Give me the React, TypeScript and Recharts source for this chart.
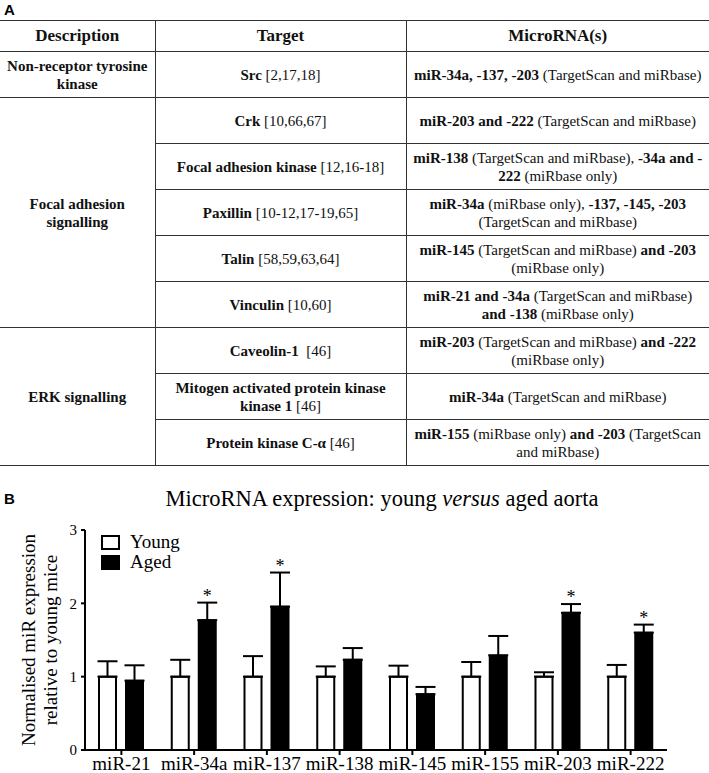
import React from 'react';
import { BarChart, Bar, XAxis, YAxis, ErrorBar, LabelList, Legend } from 'recharts';

// Panel A: table of predicted targets
const tableHeaders = ['Description', 'Target', 'MicroRNA(s)'];

const tableGroups = [
  {
    description: 'Non-receptor tyrosine\nkinase',
    targets: ['**Src** [2,17,18]'],
    mirnaText: ['**miR-34a, -137, -203** (TargetScan and miRbase)'],
  },
  {
    description: 'Focal adhesion\nsignalling',
    targets: [
      '**Crk** [10,66,67]',
      '**Focal adhesion kinase** [12,16-18]',
      '**Paxillin** [10-12,17-19,65]',
      '**Talin** [58,59,63,64]',
      '**Vinculin** [10,60]',
    ],
    mirnaText: [
      '**miR-203 and -222** (TargetScan and miRbase)',
      '**miR-138** (TargetScan and miRbase), **-34a and -**\n**222** (miRbase only)',
      '**miR-34a** (miRbase only), **-137, -145, -203**\n(TargetScan and miRbase)',
      '**miR-145** (TargetScan and miRbase) **and -203**\n(miRbase only)',
      '**miR-21 and -34a** (TargetScan and miRbase)\n**and -138** (miRbase only)',
    ],
  },
  {
    description: 'ERK signalling',
    targets: [
      '**Caveolin-1**  [46]',
      '**Mitogen activated protein kinase**\n**kinase 1** [46]',
      '**Protein kinase C-α** [46]',
    ],
    mirnaText: [
      '**miR-203** (TargetScan and miRbase) **and -222**\n(miRbase only)',
      '**miR-34a** (TargetScan and miRbase)',
      '**miR-155** (miRbase only) **and -203** (TargetScan\nand miRbase)',
    ],
  },
];

// Panel B: expression data
const mirnas = ['miR-21', 'miR-34a', 'miR-137', 'miR-138', 'miR-145', 'miR-155', 'miR-203', 'miR-222'];
const groups = ['Young', 'Aged'];
const youngMean = [1, 1, 1, 1, 1, 1, 1, 1];
const youngSem = [0.21, 0.23, 0.28, 0.14, 0.15, 0.2, 0.06, 0.16];
const agedMean = [0.945, 1.77, 1.955, 1.23, 0.76, 1.29, 1.87, 1.6];
const agedSem = [0.21, 0.24, 0.465, 0.16, 0.1, 0.265, 0.12, 0.11];
const agedSignificant = [false, true, true, false, false, false, true, true];
const yTicks = [0, 1, 2, 3];

const chartData = mirnas.map((name, i) => ({
  name,
  young: youngMean[i],
  youngErr: [0, youngSem[i]],
  aged: agedMean[i],
  agedErr: [0, agedSem[i]],
}));

const SERIF = '"Liberation Serif", "Times New Roman", serif';
const LINE = '1.5px solid #333';

// '**' toggles bold, '\n' starts a new line
const Rich = ({ text }: { text: string }) => {
  let bold = false;
  return (
    <>
      {text.split('\n').map((line, li) => (
        <div key={li}>
          {line.split('**').map((part, pi) => {
            if (pi > 0) bold = !bold;
            if (!part) return null;
            return bold ? <b key={pi}>{part}</b> : <span key={pi}>{part}</span>;
          })}
        </div>
      ))}
    </>
  );
};

const cellStyle = (col: number): React.CSSProperties => ({
  borderTop: LINE,
  borderBottom: LINE,
  borderLeft: col > 0 ? LINE : 'none',
  textAlign: 'center',
  verticalAlign: 'middle',
  padding: '0 4px',
  whiteSpace: 'pre',
});

const TargetTable = () => (
  <table
    style={{
      position: 'absolute',
      top: 20,
      left: 0,
      width: 709,
      borderCollapse: 'collapse',
      tableLayout: 'fixed',
      fontFamily: SERIF,
      fontSize: 15,
      lineHeight: '18px',
      color: '#111',
    }}
  >
    <colgroup>
      <col style={{ width: 155 }} />
      <col style={{ width: 251 }} />
      <col style={{ width: 303 }} />
    </colgroup>
    <thead>
      <tr style={{ height: 31 }}>
        {tableHeaders.map((h, i) => (
          <th key={h} style={{ ...cellStyle(i), fontSize: 17 }}>{h}</th>
        ))}
      </tr>
    </thead>
    <tbody>
      {tableGroups.map((g) =>
        g.targets.map((t, ri) => (
          <tr key={t} style={{ height: 46 }}>
            {ri === 0 && (
              <td rowSpan={g.targets.length} style={{ ...cellStyle(0), fontWeight: 'bold' }}>
                <Rich text={g.description} />
              </td>
            )}
            <td style={cellStyle(1)}><Rich text={t} /></td>
            <td style={cellStyle(2)}><Rich text={g.mirnaText[ri]} /></td>
          </tr>
        ))
      )}
    </tbody>
  </table>
);

const YLabel = (props: any) => {
  const vb = props.viewBox || {};
  const cy = vb.y + vb.height / 2;
  return (
    <g fontFamily={SERIF} fontSize={19} fill="#000" textAnchor="middle">
      <text x={28} y={cy} dy="0.35em" transform={`rotate(-90, 28, ${cy})`}>Normalised miR expression</text>
      <text x={50} y={cy} dy="0.35em" transform={`rotate(-90, 50, ${cy})`}>relative to young mice</text>
    </g>
  );
};

const Star = (props: any) => {
  const vb = props.viewBox || props;
  const i = props.index;
  if (i == null || !agedSignificant[i]) return null;
  const h = Math.abs(vb.height);
  const base = vb.y + h;
  const pxPerUnit = h / agedMean[i];
  const top = base - (agedMean[i] + agedSem[i]) * pxPerUnit;
  return (
    <text x={vb.x + vb.width / 2} y={top - 1} textAnchor="middle" fontFamily={SERIF} fontSize={18} fill="#000">
      *
    </text>
  );
};

const LegendBox = (props: any) => {
  const items = [...(props.payload || [])].sort(
    (a: any, b: any) => groups.indexOf(a.value) - groups.indexOf(b.value)
  );
  return (
    <div style={{ fontFamily: SERIF, fontSize: 19, color: '#000' }}>
      {items.map((it: any) => (
        <div key={it.value} style={{ display: 'flex', alignItems: 'center', height: 20 }}>
          <span
            style={{
              display: 'inline-block',
              width: 19,
              height: 15,
              boxSizing: 'border-box',
              border: '2px solid #000',
              background: it.value === 'Young' ? '#fff' : '#000',
              marginRight: 10,
            }}
          />
          <span>{it.value}</span>
        </div>
      ))}
    </div>
  );
};

export default function App() {
  return (
    <div style={{ position: 'absolute', left: 0, top: 0, width: 709, height: 773, background: '#fff' }}>
      <div style={{ position: 'absolute', left: 4, top: 1, fontFamily: '"Liberation Sans", Arial, sans-serif', fontWeight: 'bold', fontSize: 15 }}>A</div>
      <TargetTable />
      <div style={{ position: 'absolute', left: 4, top: 490, fontFamily: '"Liberation Sans", Arial, sans-serif', fontWeight: 'bold', fontSize: 15 }}>B</div>
      <div style={{ position: 'absolute', left: 82, top: 486, width: 600, textAlign: 'center', fontFamily: SERIF, fontSize: 22.5, lineHeight: '26px', whiteSpace: 'nowrap' }}>
        MicroRNA expression: young <i>versus</i> aged aorta
      </div>
      <div style={{ position: 'absolute', left: 0, top: 480 }}>
        <BarChart width={709} height={293} data={chartData} margin={{ top: 50, right: 42, left: 0, bottom: 0 }} barGap={10}>
          <XAxis
            dataKey="name"
            interval={0}
            height={23}
            axisLine={{ stroke: '#000', strokeWidth: 2 }}
            tickLine={{ stroke: '#000', strokeWidth: 2 }}
            tickSize={5}
            tickMargin={2}
            tick={{ fontSize: 19, fill: '#000', fontFamily: SERIF }}
          />
          <YAxis
            width={85}
            domain={[0, 3]}
            ticks={yTicks}
            interval={0}
            axisLine={{ stroke: '#000', strokeWidth: 2 }}
            tickLine={{ stroke: '#000', strokeWidth: 2 }}
            tickSize={4}
            tickMargin={4}
            tick={{ fontSize: 15, fill: '#000', fontFamily: SERIF }}
            label={{ content: YLabel }}
          />
          <Legend
            layout="vertical"
            align="center"
            verticalAlign="middle"
            itemSorter={null}
            wrapperStyle={{ top: 52, left: 101, width: 'auto' }}
            content={LegendBox}
          />
          <Bar dataKey="young" name="Young" fill="#fff" stroke="#000" strokeWidth={2} barSize={17} isAnimationActive={false}>
            <ErrorBar dataKey="youngErr" width={10} stroke="#000" strokeWidth={2} isAnimationActive={false} />
          </Bar>
          <Bar dataKey="aged" name="Aged" fill="#000" stroke="#000" strokeWidth={2} barSize={17} isAnimationActive={false}>
            <ErrorBar dataKey="agedErr" width={10} stroke="#000" strokeWidth={2} isAnimationActive={false} />
            <LabelList dataKey="aged" content={Star} />
          </Bar>
        </BarChart>
      </div>
    </div>
  );
}
